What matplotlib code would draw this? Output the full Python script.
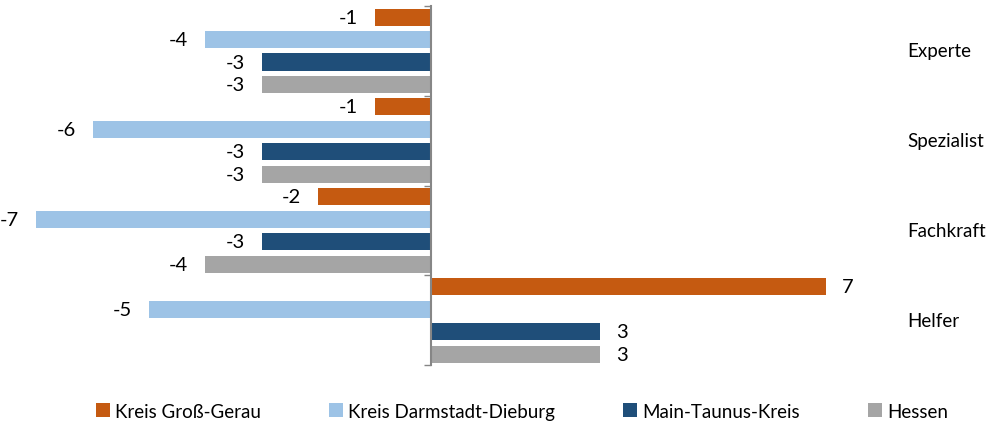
import numpy as np
import matplotlib.pyplot as plt
from matplotlib.patches import Patch

plt.rcParams['font.family'] = ['Lato', 'DejaVu Sans']

# ── data ─────────────────────────────────────────────────────────────
categories = ['Experte', 'Spezialist', 'Fachkraft', 'Helfer']
series_names = ['Kreis Groß-Gerau', 'Kreis Darmstadt-Dieburg',
                'Main-Taunus-Kreis', 'Hessen']
gross_gerau = [-1, -1, -2, 7]
darmstadt_dieburg = [-4, -6, -7, -5]
main_taunus = [-3, -3, -3, 3]
hessen = [-3, -3, -4, 3]
colors = ['#C55A11', '#9DC3E6', '#1F4E79', '#A5A5A5']

series = [gross_gerau, darmstadt_dieburg, main_taunus, hessen]

# ── plot ─────────────────────────────────────────────────────────────
fig = plt.figure(figsize=(10, 4.27), dpi=100)
ax = fig.add_axes([0.0, 0.142, 1.0, 0.842])

y = np.arange(len(categories))
slot = 0.25
for i, (vals, col) in enumerate(zip(series, colors)):
    pos = y + (i - 1.5) * slot
    ax.barh(pos, vals, height=0.19, color=col)
    for p, v in zip(pos, vals):
        if v < 0:
            ax.text(v - 0.3, p, f'{v}', ha='right', va='center', fontsize=14.5)
        else:
            ax.text(v + 0.28, p, f'{v}', ha='left', va='center', fontsize=14.5)

for yc, name in zip(y, categories):
    ax.text(8.44, yc, name, ha='left', va='center', fontsize=13.5)

ax.set_xlim(-431 / 56.4, (1000 - 431) / 56.4)
ax.set_ylim(3.5, -0.5)

for s in ['top', 'right', 'bottom']:
    ax.spines[s].set_visible(False)
ax.spines['left'].set_position(('data', 0))
ax.spines['left'].set_color('#868686')
ax.spines['left'].set_linewidth(1.5)
ax.set_xticks([])
ax.set_yticks(np.arange(-0.5, 4.0, 1.0))
ax.set_yticklabels([])
ax.tick_params(axis='y', length=5, width=1, color='#868686', direction='out')

handles = [Patch(facecolor=c, label=n) for c, n in zip(colors, series_names)]
fig.legend(handles=handles, loc='center', bbox_to_anchor=(0.522, 0.035), ncol=4,
           frameon=False, fontsize=13.5, handlelength=0.75, handleheight=0.75,
           handletextpad=0.3, columnspacing=3.6)

fig.savefig('out.png', dpi=100)
